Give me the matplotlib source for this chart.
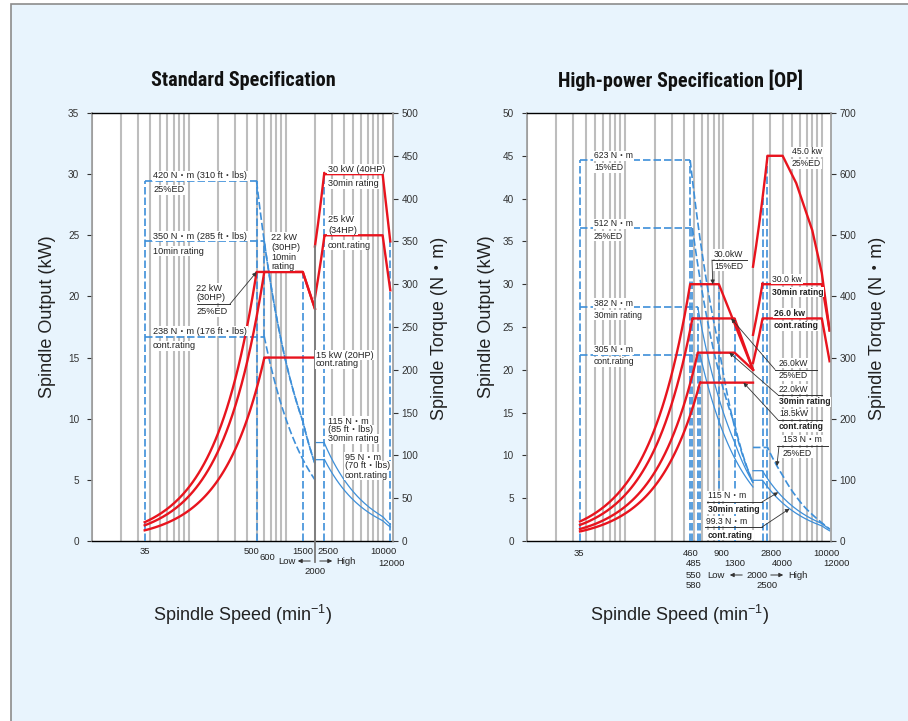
import numpy as np
import matplotlib
matplotlib.use('Agg')
import matplotlib.pyplot as plt
from matplotlib.ticker import LogLocator, NullLocator, MultipleLocator
from matplotlib.lines import Line2D
from matplotlib.patches import Rectangle, FancyArrowPatch

plt.rcParams['font.family'] = ['Liberation Sans', 'Noto Sans CJK JP', 'DejaVu Sans']
plt.rcParams['mathtext.fontset'] = 'custom'
plt.rcParams['mathtext.rm'] = 'Liberation Sans'
plt.rcParams['mathtext.it'] = 'Liberation Sans:italic'

W, H = 908, 721
RED = '#e8141e'
BLUE = '#3d8fd9'
GRID = '#bdbdbd'
BG = '#e8f4fd'
TXT = '#222222'
DASH = (0, (4.5, 1.8))
TITLE_FONT = ['Noto Sans Condensed', 'DejaVu Sans Condensed', 'Liberation Sans Narrow',
              'Roboto Condensed', 'Noto Sans', 'DejaVu Sans']

# ---- Standard Specification ----
std_start = [35, 2000]                      # start of low / high gear range (min-1)
std_low_torque = [420, 350, 238]            # N·m : 25%ED, 10min, cont.
std_low_speed = [[500, 1500, 2000], [600, 1500, 2000], [600, 2000]]
std_low_kw = [[22, 22, 19], [22, 22, 19], [15, 15]]
std_high_torque = [115, 95]                 # 30min, cont.
std_high_speed = [[2500, 10000, 12000], [2500, 10000, 12000]]
std_high_kw = [[30, 30, 24.5], [25, 25, 20.5]]
std_mark_speed = [1500, 2500, 12000]
std_low_ls = ['--', '--', '--']
std_high_ls = ['-', '-']

# ---- High-power Specification [OP] ----
hp_start = [35, 2000]
hp_low_torque = [623, 512, 382, 305]        # 15%ED, 25%ED, 30min, cont.
hp_low_speed = [[460, 900, 2000], [485, 1300, 2000], [550, 1300, 2000], [580, 2000]]
hp_low_kw = [[30, 30, 20], [26, 26, 20], [22, 22, 20], [18.5, 18.5]]
hp_high_torque = [153, 115, 99.3]           # 25%ED, 30min, cont.
hp_high_speed = [[2800, 4000, 5500, 8000, 10000, 12000], [2500, 10000, 12000],
                 [2500, 10000, 12000]]
hp_high_kw = [[45, 45, 41.8, 36.3, 31.3, 24.6], [30, 30, 24.6], [26, 26, 21]]
hp_mark_speed = [900, 1300, 2500, 2800]
hp_low_ls = ['--', '--', '-', '-']
hp_high_ls = ['--', '-', '-']


def rating_curve(torque, start, speeds, kws):
    # constant torque up to the first speed, then the power polyline
    n = np.geomspace(start, speeds[0], 80)
    ns, ps = [n], [torque * n * 2 * np.pi / 60000]
    for a, b, pa, pb in zip(speeds[:-1], speeds[1:], kws[:-1], kws[1:]):
        seg = np.geomspace(a, b, 40)
        f = np.log(seg / a) / np.log(b / a)
        ns.append(seg)
        ps.append(pa + (pb - pa) * f)
    n = np.concatenate(ns)
    p = np.concatenate(ps)
    return n, p, p * 60000 / (2 * np.pi * n)


def F(x, y):
    return (x / W, 1 - y / H)


fig = plt.figure(figsize=(W / 100, H / 100), dpi=100, facecolor='white')
fig.patches.append(Rectangle(F(11, H + 10), 1, (H + 6) / H, transform=fig.transFigure,
                             fc=BG, ec='#8c8c8c', lw=1.2, zorder=-10))


def txt(x, y, s, size=6.6, bold=False, ha='left', box=True, **kw):
    fig.text(*F(x, y), s, fontsize=size, ha=ha, va='center', color=TXT,
             fontweight='bold' if bold else 'normal',
             bbox=dict(boxstyle='square,pad=0.1', fc='white', ec='none') if box else None, **kw)


def sep(x0, x1, y):
    fig.lines.append(Line2D([x0 / W, x1 / W], [1 - y / H] * 2, transform=fig.transFigure,
                            color='#333333', lw=0.7))


def make_axes(x0, x1, kw_max, tq_max, kw_step, tq_step, xmax):
    ax = fig.add_axes([x0 / W, (H - 541) / H, (x1 - x0) / W, 428 / H])
    ax.set_xscale('log')
    ax.set_xlim(10, xmax)
    ax.set_ylim(0, kw_max)
    ax.xaxis.set_major_locator(LogLocator(base=10, subs=np.arange(1, 10), numticks=20))
    ax.xaxis.set_minor_locator(NullLocator())
    ax.grid(True, axis='x', color=GRID, lw=1.5)
    ax.set_axisbelow(True)
    ax.tick_params(axis='x', length=0, labelbottom=False)
    ax.yaxis.set_major_locator(MultipleLocator(kw_step))
    ax.tick_params(axis='y', direction='out', length=3.6, width=0.8, colors='#333333',
                   labelsize=7.2, pad=5.5)
    for s in ['top', 'bottom']:
        ax.spines[s].set_color('black')
        ax.spines[s].set_linewidth(1.0)
    ax.spines['left'].set_color('#9a9a9a')
    ax.spines['left'].set_linewidth(1.2)
    ax.spines['right'].set_visible(False)
    ax2 = ax.twinx()
    ax2.set_ylim(0, tq_max)
    ax2.yaxis.set_major_locator(MultipleLocator(tq_step))
    ax2.tick_params(axis='y', direction='out', length=3.6, width=0.8, colors='#333333',
                    labelsize=7.2, pad=2.5)
    for s in ['top', 'bottom', 'left']:
        ax2.spines[s].set_visible(False)
    ax2.spines['right'].set_color('#9a9a9a')
    ax2.spines['right'].set_linewidth(1.2)
    return ax, kw_max / tq_max


def draw_spec(ax, k, start, low_t, low_s, low_kw, high_t, high_s, high_kw,
              low_ls, high_ls, marks):
    curves = []
    for t, s, p, ls in zip(low_t, low_s, low_kw, low_ls):
        n, pw, tq = rating_curve(t, start[0], s, p)
        curves.append((n, pw, tq))
        ax.plot(n, pw, color=RED, lw=1.7, zorder=4)
        m = n >= s[0]
        ax.plot(n[m], tq[m] * k, color=BLUE, lw=1.2 if ls == '--' else 0.9,
                ls=DASH if ls == '--' else '-', zorder=3)
        ax.plot([start[0], s[0]], [t * k, t * k], color=BLUE, lw=1.2, ls=DASH, zorder=3)
    for t, s, p, ls in zip(high_t, high_s, high_kw, high_ls):
        n, pw, tq = rating_curve(t, start[1], s, p)
        curves.append((n, pw, tq))
        ax.plot(n, pw, color=RED, lw=1.7, zorder=4)
        ax.plot(n, tq * k, color=BLUE, lw=1.2 if ls == '--' else 0.9,
                ls=DASH if ls == '--' else '-', zorder=3)
    ax.plot([start[0]] * 2, [0, max(low_t) * k], color=BLUE, lw=1.2, ls=DASH, zorder=3)
    for sp in marks:
        top = max(np.interp(sp, n, pw, left=0, right=0) for n, pw, _ in curves)
        ax.plot([sp, sp], [0, top], color=BLUE, lw=1.2, ls=DASH, zorder=3)
    return curves


def arrow(ax, xy, start):
    ax.annotate('', xy=xy, xycoords='data', xytext=F(*start), textcoords='figure fraction',
                arrowprops=dict(arrowstyle='-|>', color='#333333', lw=0.6,
                                mutation_scale=6, shrinkA=0, shrinkB=0), zorder=6)


def low_high(x_low, x_2000, x_high, y, a0, a1, b0, b1, lbl2000=True):
    txt(x_low, y, 'Low', size=6.8, ha='center', box=False)
    txt(x_high, y, 'High', size=6.8, ha='center', box=False)
    if lbl2000:
        txt(x_2000, y, '2000', size=6.8, ha='center', box=False)
    for s, e in [(a0, a1), (b0, b1)]:
        fig.add_artist(FancyArrowPatch(F(s, y), F(e, y), transform=fig.transFigure,
                                       arrowstyle='-|>', mutation_scale=6,
                                       color='#333333', lw=0.7))


def title(x, s):
    fig.text(*F(x, 80), s, ha='center', va='center', fontsize=14.6, fontweight='bold',
             fontstretch='condensed', family=TITLE_FONT, color='#111111')


# ================= Standard Specification =================
axL, kL = make_axes(92, 393, 35, 500, 5, 50, 12800)
cL = draw_spec(axL, kL, std_start, std_low_torque, std_low_speed, std_low_kw,
               std_high_torque, std_high_speed, std_high_kw, std_low_ls, std_high_ls,
               std_mark_speed)
# torque box edges
axL.plot([std_low_speed[0][0]] * 2, [0, std_low_torque[0] * kL], color=BLUE, lw=1.2, ls=DASH, zorder=3)
axL.plot([std_low_speed[1][0]] * 2, [std_low_torque[2] * kL, std_low_torque[1] * kL],
         color=BLUE, lw=1.2, ls=DASH, zorder=3)
# gear change line
axL.plot([std_start[1]] * 2, [-1.7, cL[3][1][0]], color='#7a7a7a', lw=1.3, zorder=5, clip_on=False)

title(243, 'Standard Specification')
fig.text(*F(243, 615), 'Spindle Speed (min$^{-1}$)', ha='center', va='center', fontsize=13, color=TXT)
fig.text(*F(48, 317), 'Spindle Output (kW)', ha='center', va='center', fontsize=13, rotation=90, color=TXT)
fig.text(*F(440, 328), 'Spindle Torque (N・m)', ha='center', va='center', fontsize=13, rotation=90, color=TXT)

for x, y, s in [(153, 176, '420 N・m (310 ft・lbs)'), (153, 190, '25%ED'),
                (153, 236, '350 N・m (285 ft・lbs)'), (153, 251, '10min rating'),
                (153, 331, '238 N・m (176 ft・lbs)'), (153, 346, 'cont.rating'),
                (196, 288, '22 kW'), (196, 298, '(30HP)'), (196, 312, '25%ED'),
                (271, 237, '22 kW'), (271, 247, '(30HP)'), (271, 257, '10min'), (271, 266, 'rating'),
                (328, 169, '30 kW (40HP)'), (328, 184, '30min rating'),
                (328, 220, '25 kW'), (328, 230, '(34HP)'), (328, 245, 'cont.rating'),
                (316, 355, '15 kW (20HP)'), (316, 364, 'cont.rating'),
                (328, 421, '115 N・m'), (328, 430, '(85 ft・lbs)'), (328, 439, '30min rating'),
                (345, 457, '95 N・m'), (345, 466, '(70 ft・lbs)'), (345, 475, 'cont.rating')]:
    txt(x, y, s)
sep(197, 230, 304)
arrow(axL, (std_low_speed[0][0], std_low_kw[0][0]), (230, 304))

for x, y, s in [(145, 552, '35'), (252, 552, '500'), (267, 557, '600'), (303, 552, '1500'),
                (328, 552, '2500'), (383, 552, '10000'), (391, 563, '12000'), (315, 571, '2000')]:
    txt(x, y, s, size=6.8, ha='center', box=False)
low_high(287, 315, 346, 561, 313, 295, 317, 335, lbl2000=False)

# ================= High-power Specification =================
axR, kR = make_axes(526.5, 831, 50, 700, 5, 100, 12400)
cR = draw_spec(axR, kR, hp_start, hp_low_torque, hp_low_speed, hp_low_kw,
               hp_high_torque, hp_high_speed, hp_high_kw, hp_low_ls, hp_high_ls,
               hp_mark_speed)
for t, s in zip(hp_low_torque, hp_low_speed):
    axR.plot([s[0]] * 2, [0, t * kR], color=BLUE, lw=1.2, ls=DASH, zorder=3)

title(680, 'High-power Specification [OP]')
fig.text(*F(680, 615), 'Spindle Speed (min$^{-1}$)', ha='center', va='center', fontsize=13, color=TXT)
fig.text(*F(486, 317), 'Spindle Output (kW)', ha='center', va='center', fontsize=13, rotation=90, color=TXT)
fig.text(*F(877, 328), 'Spindle Torque (N・m)', ha='center', va='center', fontsize=13, rotation=90, color=TXT)

for x, y, s, b in [(594, 156, '623 N・m', False), (594, 168, '15%ED', False),
                   (594, 224, '512 N・m', False), (594, 236, '25%ED', False),
                   (594, 303, '382 N・m', False), (594, 315, '30min rating', False),
                   (594, 350, '305 N・m', False), (594, 362, 'cont.rating', False),
                   (714, 254, '30.0kW', False), (714, 266, '15%ED', False),
                   (792, 152, '45.0 kw', False), (792, 164, '25%ED', False),
                   (772, 279, '30.0 kw', False), (772, 292, '30min rating', True),
                   (774, 313, '26.0 kw', True), (774, 326, 'cont.rating', True),
                   (779, 363, '26.0kW', False), (779, 376, '25%ED', False),
                   (779, 389, '22.0kW', False), (779, 402, '30min rating', True),
                   (779, 414, '18.5kW', False), (779, 427, 'cont.rating', True),
                   (783, 440, '153 N・m', False), (783, 453, '25%ED', False),
                   (708, 496, '115 N・m', False), (708, 509, '30min rating', True),
                   (706, 521, '99.3 N・m', False), (708, 535, 'cont.rating', True)]:
    txt(x, y, s, size=6.2, bold=b)

for x0, x1, y in [(712, 747, 260), (775, 817, 369.5), (778, 822, 395), (778, 822, 420),
                  (777, 828, 446), (707, 762, 502), (705, 762, 527)]:
    sep(x0, x1, y)

n5, p5, t5 = cR[4]
n6, p6, t6 = cR[5]
n7, p7, t7 = cR[6]
arrow(axR, (780, hp_low_kw[0][0]), (712, 260))
arrow(axR, (1200, hp_low_kw[1][0]), (775, 369.5))
arrow(axR, (1150, hp_low_kw[2][0]), (778, 395))
arrow(axR, (1600, hp_low_kw[3][0]), (778, 420))
arrow(axR, (3500, np.interp(3500, n5, t5) * kR), (779, 446))
arrow(axR, (3600, np.interp(3600, n6, t6) * kR), (762, 502))
arrow(axR, (4700, np.interp(4700, n7, t7) * kR), (762, 527))

for x, y, s in [(579, 554, '35'), (691, 554, '460'), (721, 554, '900'), (771, 554, '2800'),
                (826, 554, '10000'), (694, 564, '485'), (735, 564, '1300'), (782, 564, '4000'),
                (836, 564, '12000'), (694, 575, '550'), (694, 585, '580'), (767, 585, '2500')]:
    txt(x, y, s, size=6.8, ha='center', box=False)
low_high(716, 757, 798, 575, 745, 727, 768, 786)

fig.savefig('out.png', dpi=100, facecolor=fig.get_facecolor())
